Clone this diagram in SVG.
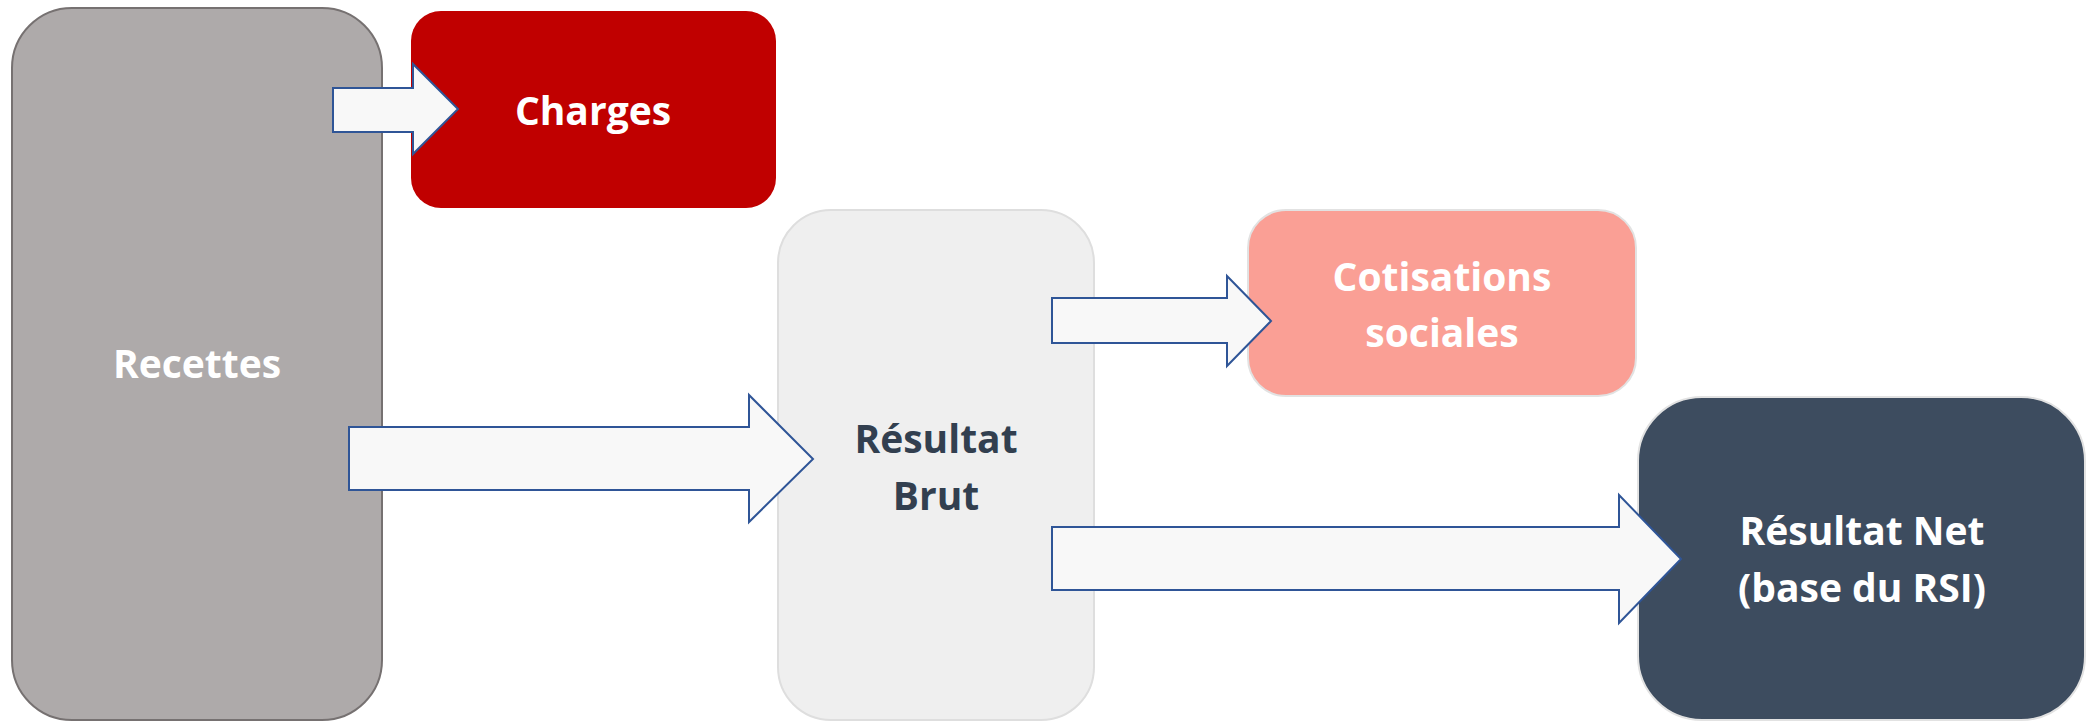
<svg xmlns="http://www.w3.org/2000/svg" width="2087" height="721" viewBox="0 0 2087 721">
<style>
text{font-family:"Open Sans","Liberation Sans",sans-serif;font-weight:700;font-size:39px;text-anchor:middle}
.w{fill:#FFFFFF}
.d{fill:#323F4F}
.arrow{fill:#F8F8F8;stroke:#2F5597;stroke-width:2;stroke-linejoin:miter}
</style>
<rect width="2087" height="721" fill="#FFFFFF"/>
<g id="recettes">
<rect x="12" y="8" width="370" height="712" rx="60" ry="60" fill="#AEAAAA" stroke="#767171" stroke-width="2"/>
<text class="w" x="197" y="378">Recettes</text>
</g>
<g id="charges">
<rect x="411" y="11" width="365" height="197" rx="30" ry="30" fill="#C00000"/>
<text class="w" x="593" y="125">Charges</text>
</g>
<g id="resultat-brut">
<rect x="778" y="210" width="316" height="510" rx="53" ry="53" fill="#EFEFEF" stroke="#DEDEDE" stroke-width="2"/>
<text class="d" x="936" y="453">Résultat</text>
<text class="d" x="936" y="510">Brut</text>
</g>
<g id="cotisations">
<rect x="1248" y="210" width="388" height="186" rx="38" ry="38" fill="#FA9F95" stroke="#E2E2E2" stroke-width="2"/>
<text class="w" x="1442" y="291">Cotisations</text>
<text class="w" x="1442" y="347">sociales</text>
</g>
<g id="resultat-net">
<rect x="1638" y="397" width="447" height="323" rx="64" ry="64" fill="#3D4C5F" stroke="#E2E2E2" stroke-width="2"/>
<text class="w" x="1862" y="545">Résultat Net</text>
<text class="w" x="1862" y="602">(base du RSI)</text>
</g>
<g id="connectors">
<path class="arrow" d="M333,88 H413 V64 L458,109 L413,154 V132 H333 Z"/>
<path class="arrow" d="M349,427 H749 V395 L813,459 L749,522 V490 H349 Z"/>
<path class="arrow" d="M1052,298 H1227 V276 L1271,321 L1227,366 V343 H1052 Z"/>
<path class="arrow" d="M1052,527 H1619 V495 L1681,559 L1619,623 V590 H1052 Z"/>
</g>
</svg>
